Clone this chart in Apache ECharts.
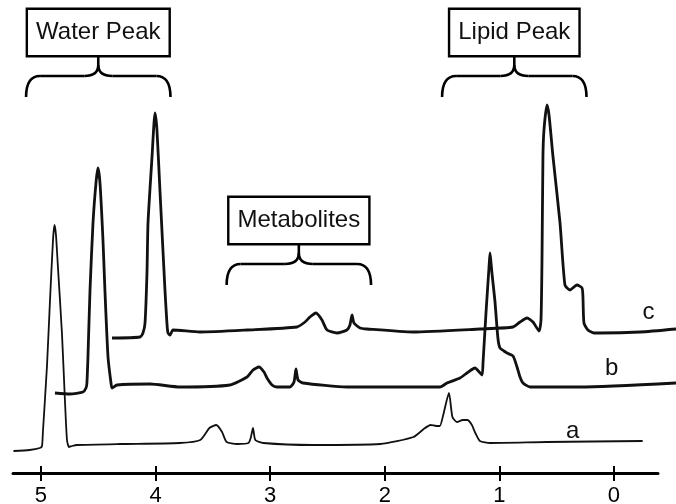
<!DOCTYPE html>
<html>
<head>
<meta charset="utf-8">
<script src="https://cdn.jsdelivr.net/npm/echarts@6/dist/echarts.min.js"></script>
<style>
html, body { margin: 0; padding: 0; background: #fff; }
#main { width: 676px; height: 504px; }
</style>
</head>
<body>
<div id="main"></div>
<script>
// spectra: [chemical shift (ppm), signal (offset units)]
const traceA = [
  [5.24, 22], [5.10, 23], [5.01, 25], [4.991, 27], [4.983, 41], [4.948, 106], [4.921, 173],
  [4.895, 233], [4.882, 248], [4.869, 238], [4.852, 206], [4.817, 140], [4.791, 73],
  [4.773, 33], [4.756, 26], [4.729, 27], [4.686, 28],
  [4.31, 29], [3.79, 30], [3.61, 33], [3.53, 45], [3.47, 48], [3.42, 41], [3.38, 31],
  [3.29, 29], [3.19, 30], [3.17, 35], [3.15, 45], [3.13, 33], [3.06, 30], [2.63, 28],
  [2.04, 29], [1.75, 36], [1.66, 44], [1.60, 48], [1.55, 47], [1.52, 47], [1.49, 58],
  [1.44, 80], [1.41, 56], [1.37, 51], [1.32, 53], [1.28, 53], [1.24, 48], [1.21, 40],
  [1.17, 32], [1.08, 30], [0.59, 31], [-0.25, 32]
];
const traceB = [
  [4.878, 80], [4.747, 79], [4.634, 81], [4.607, 85], [4.599, 90], [4.590, 116], [4.572, 183],
  [4.546, 250], [4.520, 290], [4.503, 305], [4.485, 290], [4.459, 233], [4.442, 183],
  [4.415, 116], [4.389, 90], [4.380, 85], [4.337, 88], [4.049, 89], [3.787, 86], [3.351, 88],
  [3.202, 96], [3.150, 103], [3.098, 106], [3.054, 101], [3.028, 95], [2.984, 88], [2.941, 86],
  [2.827, 86], [2.792, 91], [2.775, 104], [2.757, 93], [2.714, 90], [2.330, 86], [1.518, 86],
  [1.457, 90], [1.344, 95], [1.283, 100], [1.213, 105], [1.152, 98], [1.143, 110], [1.117, 160],
  [1.091, 205], [1.082, 220], [1.073, 210], [1.065, 200], [1.039, 172], [1.013, 135],
  [0.995, 125], [0.960, 122], [0.934, 120], [0.881, 117], [0.846, 106], [0.820, 96],
  [0.794, 90], [0.733, 86], [0.297, 86], [-0.541, 90]
];
const traceC = [
  [4.380, 135], [4.136, 136], [4.110, 140], [4.092, 150], [4.075, 200], [4.066, 250],
  [4.031, 316], [4.005, 360], [3.988, 343], [3.962, 283], [3.918, 183], [3.901, 150],
  [3.892, 140], [3.874, 138], [3.848, 143], [3.613, 141], [3.202, 143], [2.766, 146],
  [2.696, 151], [2.653, 156], [2.600, 160], [2.548, 153], [2.504, 143], [2.417, 140],
  [2.330, 143], [2.304, 148], [2.286, 158], [2.269, 150], [2.216, 145], [2.155, 144],
  [1.754, 141], [1.169, 144], [0.881, 146], [0.820, 151], [0.759, 155], [0.707, 151],
  [0.654, 142], [0.637, 153], [0.628, 216], [0.620, 316], [0.611, 343], [0.585, 368],
  [0.567, 358], [0.532, 316], [0.471, 250], [0.428, 188], [0.384, 183], [0.323, 188],
  [0.279, 185], [0.271, 176], [0.262, 150], [0.227, 143], [0.175, 140], [0.122, 140],
  [-0.227, 141], [-0.541, 144]
];
const traceNames = ['a', 'b', 'c'];
const shiftTicks = [5, 4, 3, 2, 1, 0];
// bracketed regions (ppm)
const regionNames = ['Water Peak', 'Metabolites', 'Lipid Peak'];
const regionFrom = [5.13, 3.38, 1.50];
const regionTo = [3.87, 2.12, 0.24];

const FONT = '"Liberation Sans", Arial, Helvetica, sans-serif';
const chart = echarts.init(document.getElementById('main'));

const tickStyle = { color: '#000', width: 2 };
const option = {
  animation: false,
  backgroundColor: '#fff',
  grid: [
    { left: 13, right: 18, top: 0, bottom: 31, outerBoundsMode: 'none' },
    { left: 13, right: 0, top: 0, bottom: 31, outerBoundsMode: 'none' }
  ],
  xAxis: [
    {
      type: 'value', gridIndex: 0, position: 'bottom', inverse: true, min: -0.384, max: 5.244,
      splitLine: { show: false },
      axisLine: { show: true, lineStyle: { color: '#000', width: 3 } },
      axisTick: { show: true, length: 8, customValues: shiftTicks, lineStyle: tickStyle },
      axisLabel: {
        show: true, customValues: shiftTicks, margin: 12,
        color: '#000', fontSize: 22, fontFamily: FONT
      }
    },
    {
      type: 'value', gridIndex: 0, position: 'bottom', inverse: true, min: -0.384, max: 5.244,
      splitLine: { show: false },
      axisLine: { show: false },
      axisTick: { show: true, inside: true, length: 7, customValues: shiftTicks, lineStyle: tickStyle },
      axisLabel: { show: false }
    },
    { type: 'value', gridIndex: 1, inverse: true, min: -0.541, max: 5.244, show: false }
  ],
  yAxis: [
    { type: 'value', gridIndex: 0, min: 0, max: 473, show: false },
    { type: 'value', gridIndex: 1, min: 0, max: 473, show: false }
  ],
  series: [traceA, traceB, traceC].map((d, i) => ({
    name: traceNames[i],
    type: 'line',
    xAxisIndex: 2,
    yAxisIndex: 1,
    data: d,
    showSymbol: false,
    smooth: 0.2,
    lineStyle: { color: '#111', width: i === 0 ? 1.8 : 2.8 }
  }))
};
chart.setOption(option);

// annotations (boxes, braces, trace letters)
function px(ppm, val) {
  return chart.convertToPixel({ gridIndex: 1 }, [ppm, val]);
}
const boxBottomLevel = [418, 230, 418];
const elements = [];
regionNames.forEach((name, i) => {
  const xL = px(regionFrom[i], 0)[0];
  const xR = px(regionTo[i], 0)[0];
  const xc = (xL + xR) / 2;
  const yBox = px(0, boxBottomLevel[i])[1];
  const yBar = yBox + 21, yTip = yBar - 11, yEnd = yBar + 21;
  const r = 14;
  const st = { stroke: '#000', lineWidth: 2.6, fill: null };
  elements.push(
    { type: 'bezierCurve', shape: { x1: xL, y1: yEnd, cpx1: xL, cpy1: yBar, x2: xL + r, y2: yBar }, style: st },
    { type: 'line', shape: { x1: xL + r, y1: yBar, x2: xc - r, y2: yBar }, style: st },
    { type: 'bezierCurve', shape: { x1: xc - r, y1: yBar, cpx1: xc, cpy1: yBar, x2: xc, y2: yTip }, style: st },
    { type: 'bezierCurve', shape: { x1: xc + r, y1: yBar, cpx1: xc, cpy1: yBar, x2: xc, y2: yTip }, style: st },
    { type: 'line', shape: { x1: xc + r, y1: yBar, x2: xR - r, y2: yBar }, style: st },
    { type: 'bezierCurve', shape: { x1: xR - r, y1: yBar, cpx1: xR, cpy1: yBar, x2: xR, y2: yEnd }, style: st },
    { type: 'line', shape: { x1: xc, y1: yTip, x2: xc, y2: yBox }, style: st },
    {
      type: 'text', x: xc, y: yBox - 22.5, z: 10,
      style: {
        text: name, font: '24px ' + FONT, fill: '#111',
        align: 'center', verticalAlign: 'middle', textAlign: 'center', textVerticalAlign: 'middle',
        backgroundColor: '#fff', borderColor: '#000', borderWidth: 2.4, padding: [10, 8], lineHeight: 25
      }
    }
  );
});
const letterAt = [[0.36, 42], [0.02, 105], [-0.30, 161]];
traceNames.forEach((t, i) => {
  const p = px(letterAt[i][0], letterAt[i][1]);
  elements.push({
    type: 'text', x: p[0], y: p[1],
    style: {
      text: t, font: '24px ' + FONT, fill: '#111',
      align: 'center', verticalAlign: 'middle', textAlign: 'center', textVerticalAlign: 'middle'
    }
  });
});
chart.setOption({ graphic: { elements: elements } });
</script>
</body>
</html>
